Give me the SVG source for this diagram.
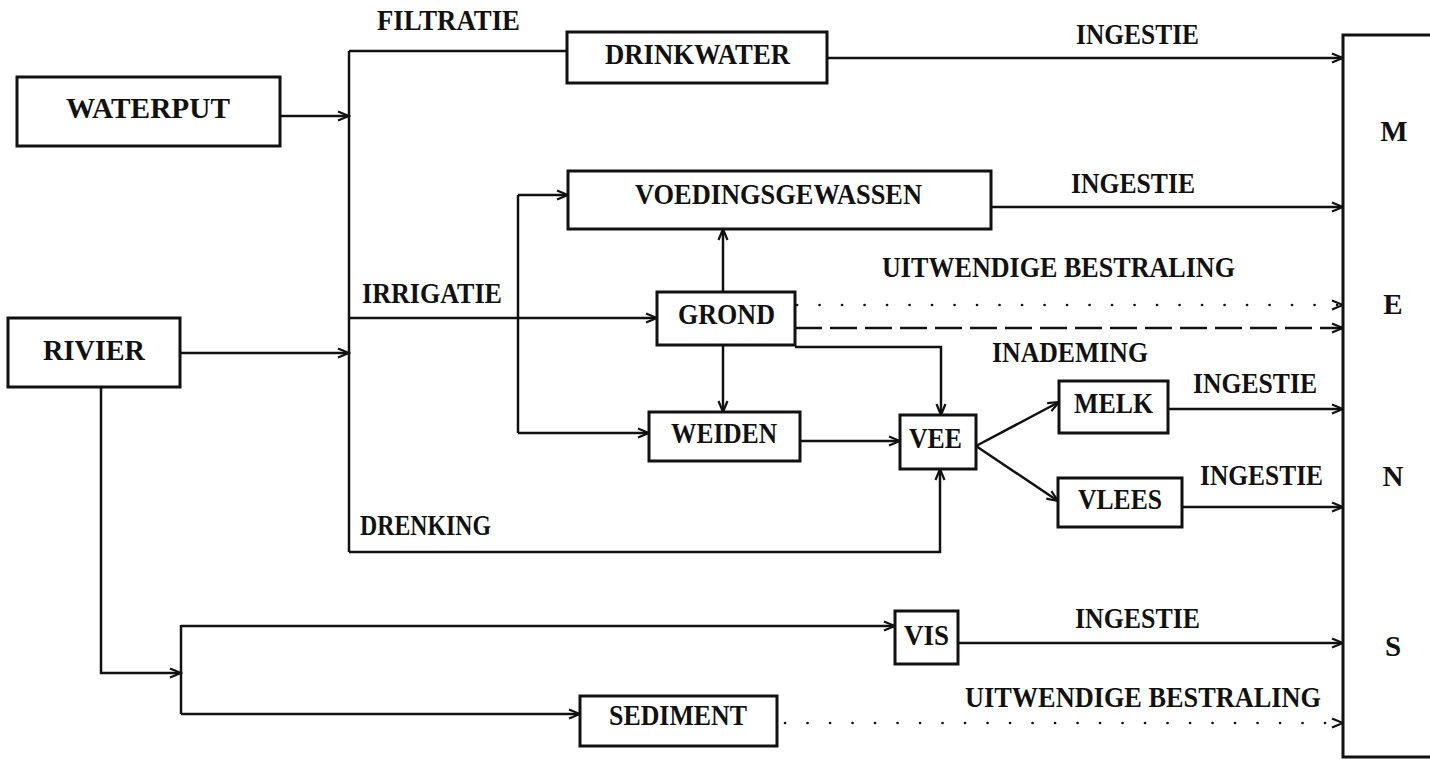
<svg xmlns="http://www.w3.org/2000/svg" width="1430" height="759" viewBox="0 0 1430 759">
<defs>
<style>
.box{fill:#fff;stroke:#111;stroke-width:3}
.t{font-family:"Liberation Serif","Times New Roman",serif;font-weight:bold;font-size:29px;fill:#111}
.c{fill:none;stroke:#111;stroke-width:2.5}
.dot{fill:none;stroke:#111;stroke-width:2.6;stroke-linecap:round;stroke-dasharray:0.1 22.4}
.dash{fill:none;stroke:#111;stroke-width:2.5;stroke-dasharray:27 8}
</style>
<marker id="arr" markerUnits="userSpaceOnUse" markerWidth="14" markerHeight="12" viewBox="-12 -6 14 12" refX="0" refY="0" orient="auto">
<path d="M-11,-4.5 L0,0 L-11,4.5" fill="none" stroke="#111" stroke-width="2.2" stroke-linejoin="miter"/>
</marker>
</defs>
<rect width="1430" height="759" fill="#fff"/>

<g id="connectors">
<path class="c" d="M280,116 H349" marker-end="url(#arr)"/>
<path class="c" d="M180,353 H349" marker-end="url(#arr)"/>
<path class="c" d="M349,51 V552"/>
<path class="c" d="M349,51 H567"/>
<path class="c" d="M827,58 H1343" marker-end="url(#arr)"/>
<path class="c" d="M349,318 H657" marker-end="url(#arr)"/>
<path class="c" d="M518,195 V433"/>
<path class="c" d="M518,195 H568" marker-end="url(#arr)"/>
<path class="c" d="M518,433 H649" marker-end="url(#arr)"/>
<path class="c" d="M723,292 V229" marker-end="url(#arr)"/>
<path class="c" d="M723,345 V412" marker-end="url(#arr)"/>
<path class="c" d="M795,347 H941 V415" marker-end="url(#arr)"/>
<path class="c" d="M800,441 H900" marker-end="url(#arr)"/>
<path class="c" d="M349,552 H940 V469" marker-end="url(#arr)"/>
<path class="c" d="M976,446 L1059,402" marker-end="url(#arr)"/>
<path class="c" d="M976,446 L1058,501" marker-end="url(#arr)"/>
<path class="c" d="M991,207 H1343" marker-end="url(#arr)"/>
<path class="dot" d="M797,305 H1343" marker-end="url(#arr)"/>
<path class="dash" d="M795,328 H1343" marker-end="url(#arr)"/>
<path class="c" d="M1168,409 H1343" marker-end="url(#arr)"/>
<path class="c" d="M1182,507 H1343" marker-end="url(#arr)"/>
<path class="c" d="M101,387 V673 H181" marker-end="url(#arr)"/>
<path class="c" d="M181,625 V714"/>
<path class="c" d="M181,626 H895" marker-end="url(#arr)"/>
<path class="c" d="M181,714 H580" marker-end="url(#arr)"/>
<path class="c" d="M958,643 H1343" marker-end="url(#arr)"/>
<path class="dot" d="M785,723 H1343" marker-end="url(#arr)"/>
</g>

<g id="labels">
<text class="t" x="377" y="30" textLength="143" lengthAdjust="spacingAndGlyphs">FILTRATIE</text>
<text class="t" x="1076" y="44" textLength="123" lengthAdjust="spacingAndGlyphs">INGESTIE</text>
<text class="t" x="1071" y="193" textLength="124" lengthAdjust="spacingAndGlyphs">INGESTIE</text>
<text class="t" x="882" y="277" textLength="353" lengthAdjust="spacingAndGlyphs">UITWENDIGE BESTRALING</text>
<text class="t" x="362" y="303" textLength="140" lengthAdjust="spacingAndGlyphs">IRRIGATIE</text>
<text class="t" x="992" y="362" textLength="156" lengthAdjust="spacingAndGlyphs">INADEMING</text>
<text class="t" x="1193" y="393" textLength="124" lengthAdjust="spacingAndGlyphs">INGESTIE</text>
<text class="t" x="1200" y="485" textLength="123" lengthAdjust="spacingAndGlyphs">INGESTIE</text>
<text class="t" x="360" y="535" textLength="131" lengthAdjust="spacingAndGlyphs">DRENKING</text>
<text class="t" x="1075" y="628" textLength="125" lengthAdjust="spacingAndGlyphs">INGESTIE</text>
<text class="t" x="965" y="707" textLength="356" lengthAdjust="spacingAndGlyphs">UITWENDIGE BESTRALING</text>
</g>

<g id="waterput"><rect class="box" x="17" y="77" width="263" height="69"/><text class="t" x="66" y="118" textLength="164" lengthAdjust="spacingAndGlyphs">WATERPUT</text></g>
<g id="rivier"><rect class="box" x="8" y="318" width="172" height="69"/><text class="t" x="43" y="360" textLength="102" lengthAdjust="spacingAndGlyphs">RIVIER</text></g>
<g id="drinkwater"><rect class="box" x="567" y="32" width="260" height="51"/><text class="t" x="605" y="64" textLength="185" lengthAdjust="spacingAndGlyphs">DRINKWATER</text></g>
<g id="voedingsgewassen"><rect class="box" x="568" y="171" width="423" height="58"/><text class="t" x="635" y="204" textLength="287" lengthAdjust="spacingAndGlyphs">VOEDINGSGEWASSEN</text></g>
<g id="grond"><rect class="box" x="657" y="292" width="138" height="53"/><text class="t" x="678" y="324" textLength="97" lengthAdjust="spacingAndGlyphs">GROND</text></g>
<g id="weiden"><rect class="box" x="649" y="412" width="151" height="49"/><text class="t" x="671" y="443" textLength="106" lengthAdjust="spacingAndGlyphs">WEIDEN</text></g>
<g id="vee"><rect class="box" x="900" y="415" width="76" height="54"/><text class="t" x="909" y="448" textLength="53" lengthAdjust="spacingAndGlyphs">VEE</text></g>
<g id="melk"><rect class="box" x="1059" y="381" width="109" height="52"/><text class="t" x="1074" y="413" textLength="79" lengthAdjust="spacingAndGlyphs">MELK</text></g>
<g id="vlees"><rect class="box" x="1058" y="478" width="124" height="49"/><text class="t" x="1078" y="509" textLength="84" lengthAdjust="spacingAndGlyphs">VLEES</text></g>
<g id="vis"><rect class="box" x="895" y="611" width="63" height="53"/><text class="t" x="904" y="645" textLength="45" lengthAdjust="spacingAndGlyphs">VIS</text></g>
<g id="sediment"><rect class="box" x="580" y="696" width="197" height="50"/><text class="t" x="609" y="725" textLength="138" lengthAdjust="spacingAndGlyphs">SEDIMENT</text></g>
<g id="mens"><path class="box" d="M1440,35 H1343 V757 H1440"/>
<text class="t" x="1394" y="141" text-anchor="middle">M</text>
<text class="t" x="1393" y="314" text-anchor="middle">E</text>
<text class="t" x="1393" y="486" text-anchor="middle">N</text>
<text class="t" x="1393" y="656" text-anchor="middle">S</text></g>
</svg>
